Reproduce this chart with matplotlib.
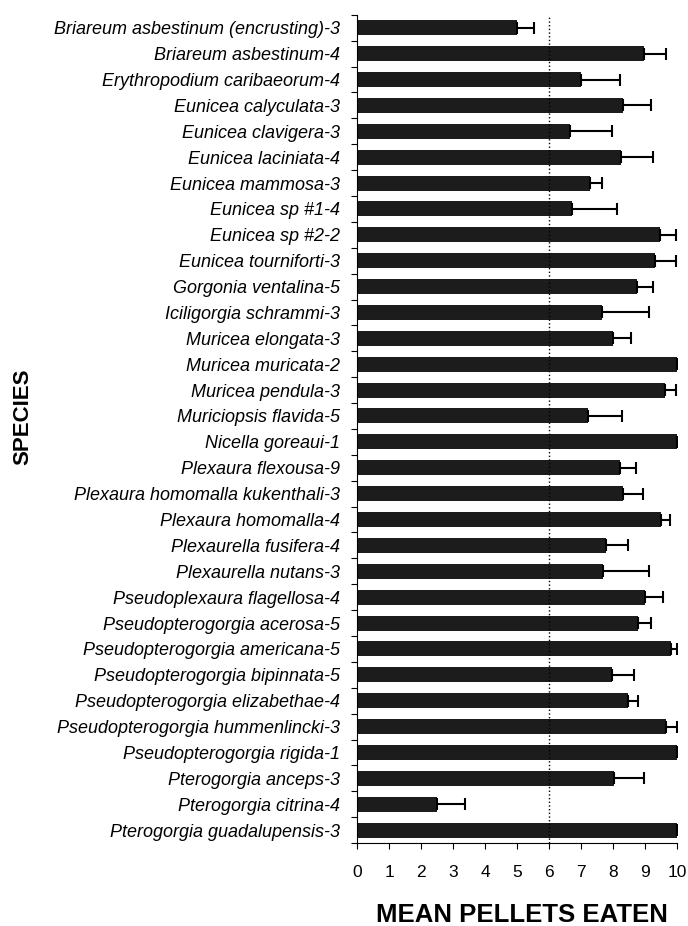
import numpy as np
import matplotlib.pyplot as plt

species = [
    "Briareum asbestinum (encrusting)-3", "Briareum asbestinum-4",
    "Erythropodium caribaeorum-4", "Eunicea calyculata-3", "Eunicea clavigera-3",
    "Eunicea laciniata-4", "Eunicea mammosa-3", "Eunicea sp #1-4", "Eunicea sp #2-2",
    "Eunicea tourniforti-3", "Gorgonia ventalina-5", "Iciligorgia schrammi-3",
    "Muricea elongata-3", "Muricea muricata-2", "Muricea pendula-3",
    "Muriciopsis flavida-5", "Nicella goreaui-1", "Plexaura flexousa-9",
    "Plexaura homomalla kukenthali-3", "Plexaura homomalla-4",
    "Plexaurella fusifera-4", "Plexaurella nutans-3", "Pseudoplexaura flagellosa-4",
    "Pseudopterogorgia acerosa-5", "Pseudopterogorgia americana-5",
    "Pseudopterogorgia bipinnata-5", "Pseudopterogorgia elizabethae-4",
    "Pseudopterogorgia hummenlincki-3", "Pseudopterogorgia rigida-1",
    "Pterogorgia anceps-3", "Pterogorgia citrina-4", "Pterogorgia guadalupensis-3",
]
# mean pellets eaten and the upper end of each error bar
mean_eaten = [5.0, 8.96, 6.99, 8.30, 6.65, 8.26, 7.29, 6.73, 9.48, 9.32, 8.76, 7.67,
              8.01, 10.0, 9.64, 7.22, 10.0, 8.23, 8.32, 9.49, 7.77, 7.68, 8.99, 8.78,
              9.80, 7.98, 8.46, 9.67, 10.0, 8.03, 2.51, 10.0]
err_top = [5.53, 9.65, 8.23, 9.20, 7.98, 9.25, 7.65, 8.13, 9.96, 9.96, 9.25, 9.11,
           8.55, 10.0, 9.98, 8.29, 10.0, 8.73, 8.95, 9.77, 8.46, 9.13, 9.56, 9.18,
           10.0, 8.67, 8.78, 10.0, 10.0, 8.97, 3.36, 10.0]
sem = np.array(err_top) - np.array(mean_eaten)

plt.rcParams['font.family'] = ['Liberation Sans', 'DejaVu Sans']

fig = plt.figure(figsize=(6.88, 9.26), dpi=100)
ax = fig.add_axes([0.519, 0.0896, 0.465, 0.8944])

y = np.arange(len(species))
ax.barh(y, mean_eaten, height=0.58, color="#1c1c1c",
        xerr=[np.zeros(len(sem)), sem],
        error_kw=dict(ecolor="black", elinewidth=1.5, capsize=4, capthick=1.5))
ax.axvline(6, color="black", linestyle=":", linewidth=1)

ax.set_xlim(0, 10)
ax.set_ylim(len(species) - 0.5, -0.5)
ax.set_xticks(range(11))
ax.set_yticks(y)
ax.set_yticklabels(species, fontstyle="italic", fontsize=13)
ax.set_yticks(np.arange(-0.5, len(species)), minor=True)
ax.tick_params(axis="y", which="major", length=0, pad=12)
ax.tick_params(axis="y", which="minor", length=4, width=0.8)
ax.tick_params(axis="x", labelsize=12.5, length=4, width=0.8, pad=12)
for s in ["top", "right"]:
    ax.spines[s].set_visible(False)

fig.text(0.758, 0.0119, "MEAN PELLETS EATEN", fontsize=18.5, fontweight="bold",
         ha="center", va="center")
fig.text(0.033, 0.55, "SPECIES", rotation=90, fontsize=16, fontweight="bold",
         ha="center", va="center")

fig.savefig("out.png", dpi=100)
plt.close("all")
